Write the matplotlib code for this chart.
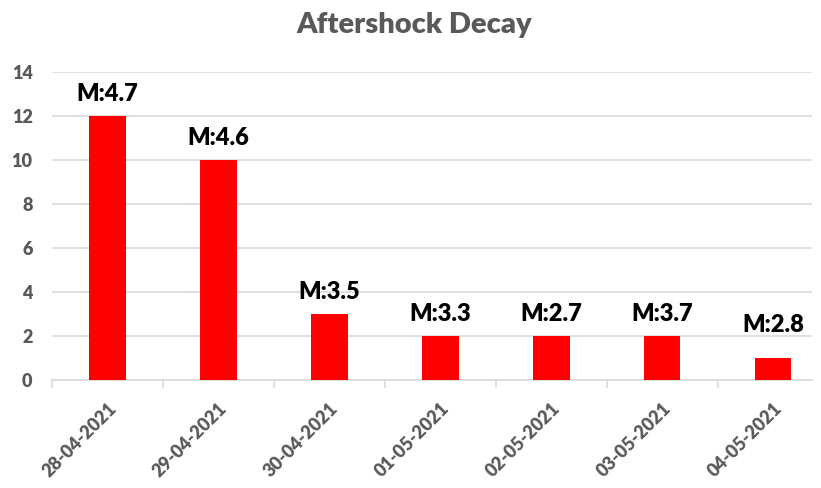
import matplotlib.pyplot as plt
import numpy as np

dates = ["28-04-2021", "29-04-2021", "30-04-2021", "01-05-2021",
         "02-05-2021", "03-05-2021", "04-05-2021"]
counts = [12, 10, 3, 2, 2, 2, 1]
magnitudes = ["M:4.7", "M:4.6", "M:3.5", "M:3.3", "M:2.7", "M:3.7", "M:2.8"]

plt.rcParams['font.family'] = ['Lato', 'DejaVu Sans']
HEAVY = 800

fig = plt.figure(figsize=(8.21, 4.88), dpi=100)
ax = fig.add_axes([0.0633, 0.2213, 0.9257, 0.631])

x = np.arange(len(dates))
bars = ax.bar(x, counts, width=0.33, color="#FF0000", zorder=3)

# data labels above bars (last one sits a bit higher, as in the source)
offsets = [8, 8, 8, 8, 8, 8, 16]
for rect, lab, off in zip(bars, magnitudes, offsets):
    ax.annotate(lab, (rect.get_x() + rect.get_width() / 2, rect.get_height()),
                xytext=(0, off), textcoords="offset points",
                ha="center", va="bottom", fontsize=17, fontweight=HEAVY,
                color="black")

ax.set_xlim(-0.5, 6.35)
ax.set_ylim(0, 14)
ax.set_yticks(range(0, 15, 2))
ax.set_yticklabels([str(v) for v in range(0, 15, 2)], fontsize=13,
                   color="#595959", fontweight=HEAVY)
ax.yaxis.grid(True, color="#D9D9D9", linewidth=1.2, zorder=0)
ax.tick_params(axis="y", length=0, pad=14)

ax.set_xticks(x)
ax.set_xticklabels(dates, rotation=45, ha="right", rotation_mode="anchor",
                   fontsize=13, color="#595959", fontweight=HEAVY)
ax.tick_params(axis="x", which="major", length=0, pad=14)
ax.set_xticks(np.arange(-0.5, 6.0, 1), minor=True)
ax.tick_params(axis="x", which="minor", length=6, color="#D9D9D9", width=1.2)

for side in ["top", "right", "left"]:
    ax.spines[side].set_visible(False)
ax.spines["bottom"].set_color("#D9D9D9")
ax.spines["bottom"].set_linewidth(1.2)

fig.text(0.505, 0.948, "Aftershock Decay", ha="center", va="center",
         fontsize=21, fontweight=HEAVY, color="#595959")

fig.savefig("out.png", dpi=100)
